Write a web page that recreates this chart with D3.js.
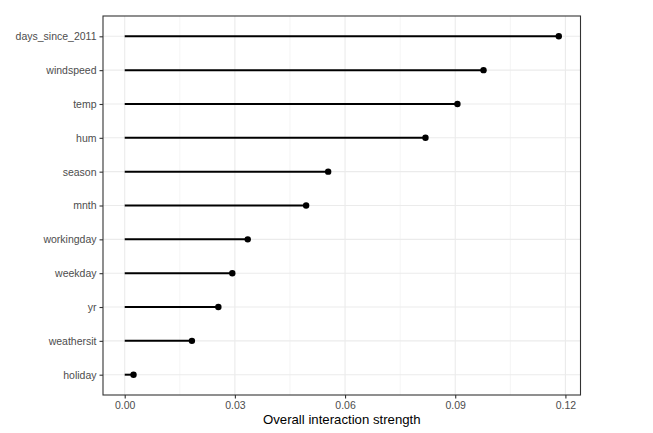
<!DOCTYPE html>
<html><head><meta charset="utf-8">
<script src="https://cdn.jsdelivr.net/npm/d3@7"></script>
<style>body{margin:0;background:#fff}text{font-family:"Liberation Sans",Arial,sans-serif}</style>
</head><body><svg id="c" width="653" height="433"></svg>
<script>
const features = ["days_since_2011","windspeed","temp","hum","season","mnth","workingday","weekday","yr","weathersit","holiday"];
const strength = [0.1182,0.0977,0.0906,0.0819,0.0554,0.0494,0.0335,0.0293,0.0255,0.0183,0.0024];
const xTicks = [0,0.03,0.06,0.09,0.12];
const xMinor = [0.015,0.045,0.075,0.105];
const xLabel = "Overall interaction strength";

const svg = d3.select("#c");
const L=103, R=580.5, T=16, B=395;
const mx = d3.max(strength);
const x = d3.scaleLinear().domain([-0.05*mx, mx*1.05]).range([L,R]);
const n = features.length;
const step = (B-T)/(n-1+1.2);
const y = d3.scalePoint().domain(features).range([T+0.6*step, B-0.6*step]);

const g = svg.append("g");
g.selectAll(".minor").data(xMinor).join("line").attr("x1",d=>x(d)).attr("x2",d=>x(d)).attr("y1",T).attr("y2",B).attr("stroke","#EBEBEB").attr("stroke-width",0.55);
g.selectAll(".majx").data(xTicks).join("line").attr("x1",d=>x(d)).attr("x2",d=>x(d)).attr("y1",T).attr("y2",B).attr("stroke","#EBEBEB").attr("stroke-width",1.1);
g.selectAll(".majy").data(features).join("line").attr("x1",L).attr("x2",R).attr("y1",d=>y(d)).attr("y2",d=>y(d)).attr("stroke","#EBEBEB").attr("stroke-width",1.1);

g.selectAll(".seg").data(features).join("line").attr("x1",x(0)).attr("x2",(d,i)=>x(strength[i])).attr("y1",d=>y(d)).attr("y2",d=>y(d)).attr("stroke","#000").attr("stroke-width",2);
g.selectAll(".pt").data(features).join("circle").attr("cx",(d,i)=>x(strength[i])).attr("cy",d=>y(d)).attr("r",3.2).attr("fill","#000");

svg.append("rect").attr("x",L).attr("y",T).attr("width",R-L).attr("height",B-T).attr("fill","none").attr("stroke","#333").attr("stroke-width",1.1);

const xa = svg.append("g").attr("transform",`translate(0,${B})`).call(d3.axisBottom(x).tickValues(xTicks).tickFormat(d3.format(".2f")).tickSize(3.5).tickPadding(3));
const ya = svg.append("g").attr("transform",`translate(${L},0)`).call(d3.axisLeft(y).tickSize(3.5).tickPadding(3));
[xa,ya].forEach(a=>{a.select(".domain").remove();a.selectAll(".tick line").attr("stroke","#333").attr("stroke-width",1.1);a.selectAll(".tick text").attr("fill","#4D4D4D").style("font-size","10.5px").style("font-family","Liberation Sans, Arial, sans-serif");});

svg.append("text").attr("x",(L+R)/2).attr("y",424).attr("text-anchor","middle").style("font-size","13.2px").attr("fill","#000").text(xLabel);
</script></body></html>
